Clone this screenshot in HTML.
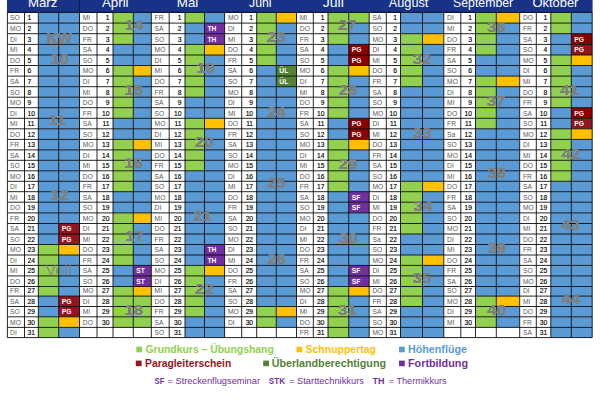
<!DOCTYPE html>
<html lang="de"><head><meta charset="utf-8"><title>Kurskalender 2020</title>
<style>
html,body{margin:0;padding:0;background:#fff;}
body{width:600px;height:400px;overflow:hidden;position:relative;}
svg{display:block;position:absolute;left:0;top:0;}
text{font-family:"Liberation Sans",sans-serif;}
.d{font-size:6.70px;fill:#5a5a5a;}
.n{font-size:6.70px;fill:#000;stroke:#000;stroke-width:0.14px;}
.c{font-size:6.70px;fill:#fff;font-weight:bold;}
.h{font-size:12.7px;fill:#fff;}
.k{font-weight:bold;font-size:13.80px;fill:#7f7f7f;text-anchor:middle;}
.v{font-size:14.8px;fill:#7f7f7f;fill-opacity:0.78;text-anchor:middle;}
.l1{font-size:10.2px;font-weight:bold;}
.l3{font-size:9.4px;fill:#7030a0;}
</style></head><body>
<svg width="600" height="400" viewBox="0 0 600 400">
<rect x="0" y="0" width="600" height="400" fill="#fff"/>
<rect x="7.00" y="-1" width="585.60" height="13.75" fill="#173286"/>
<rect x="38.30" y="12.45" width="20.40" height="10.65" fill="#5b9bd5"/>
<rect x="58.70" y="12.45" width="20.80" height="10.65" fill="#5b9bd5"/>
<rect x="38.30" y="23.10" width="20.40" height="10.60" fill="#5b9bd5"/>
<rect x="58.70" y="23.10" width="20.80" height="10.60" fill="#5b9bd5"/>
<rect x="38.30" y="33.70" width="20.40" height="10.70" fill="#5b9bd5"/>
<rect x="58.70" y="33.70" width="20.80" height="10.70" fill="#5b9bd5"/>
<rect x="38.30" y="44.40" width="20.40" height="10.60" fill="#5b9bd5"/>
<rect x="58.70" y="44.40" width="20.80" height="10.60" fill="#5b9bd5"/>
<rect x="38.30" y="55.00" width="20.40" height="10.50" fill="#5b9bd5"/>
<rect x="58.70" y="55.00" width="20.80" height="10.50" fill="#5b9bd5"/>
<rect x="38.30" y="65.50" width="20.40" height="10.60" fill="#5b9bd5"/>
<rect x="58.70" y="65.50" width="20.80" height="10.60" fill="#5b9bd5"/>
<rect x="38.30" y="76.10" width="20.40" height="10.60" fill="#5b9bd5"/>
<rect x="58.70" y="76.10" width="20.80" height="10.60" fill="#5b9bd5"/>
<rect x="38.30" y="86.70" width="20.40" height="10.50" fill="#5b9bd5"/>
<rect x="58.70" y="86.70" width="20.80" height="10.50" fill="#5b9bd5"/>
<rect x="38.30" y="97.20" width="20.40" height="10.50" fill="#5b9bd5"/>
<rect x="58.70" y="97.20" width="20.80" height="10.50" fill="#5b9bd5"/>
<rect x="38.30" y="107.70" width="20.40" height="10.60" fill="#5b9bd5"/>
<rect x="58.70" y="107.70" width="20.80" height="10.60" fill="#5b9bd5"/>
<rect x="38.30" y="118.30" width="20.40" height="10.50" fill="#5b9bd5"/>
<rect x="58.70" y="118.30" width="20.80" height="10.50" fill="#5b9bd5"/>
<rect x="38.30" y="128.80" width="20.40" height="10.60" fill="#5b9bd5"/>
<rect x="58.70" y="128.80" width="20.80" height="10.60" fill="#5b9bd5"/>
<rect x="38.30" y="139.40" width="20.40" height="10.50" fill="#5b9bd5"/>
<rect x="58.70" y="139.40" width="20.80" height="10.50" fill="#5b9bd5"/>
<rect x="38.30" y="149.90" width="20.40" height="10.40" fill="#5b9bd5"/>
<rect x="58.70" y="149.90" width="20.80" height="10.40" fill="#5b9bd5"/>
<rect x="38.30" y="160.30" width="20.40" height="10.50" fill="#5b9bd5"/>
<rect x="58.70" y="160.30" width="20.80" height="10.50" fill="#5b9bd5"/>
<rect x="38.30" y="170.80" width="20.40" height="10.50" fill="#5b9bd5"/>
<rect x="58.70" y="170.80" width="20.80" height="10.50" fill="#5b9bd5"/>
<rect x="38.30" y="181.30" width="20.40" height="10.40" fill="#5b9bd5"/>
<rect x="58.70" y="181.30" width="20.80" height="10.40" fill="#5b9bd5"/>
<rect x="38.30" y="191.70" width="20.40" height="10.50" fill="#5b9bd5"/>
<rect x="58.70" y="191.70" width="20.80" height="10.50" fill="#5b9bd5"/>
<rect x="38.30" y="202.20" width="20.40" height="10.70" fill="#5b9bd5"/>
<rect x="58.70" y="202.20" width="20.80" height="10.70" fill="#5b9bd5"/>
<rect x="38.30" y="212.90" width="20.40" height="10.60" fill="#5b9bd5"/>
<rect x="58.70" y="212.90" width="20.80" height="10.60" fill="#5b9bd5"/>
<rect x="38.30" y="223.50" width="20.40" height="10.50" fill="#5b9bd5"/>
<rect x="58.70" y="223.50" width="20.80" height="10.50" fill="#911620"/>
<rect x="38.30" y="234.00" width="20.40" height="10.50" fill="#5b9bd5"/>
<rect x="58.70" y="234.00" width="20.80" height="10.50" fill="#911620"/>
<rect x="38.30" y="244.50" width="20.40" height="10.50" fill="#92d050"/>
<rect x="58.70" y="244.50" width="20.80" height="10.50" fill="#ffc000"/>
<rect x="38.30" y="255.00" width="20.40" height="10.40" fill="#92d050"/>
<rect x="58.70" y="255.00" width="20.80" height="10.40" fill="#5b9bd5"/>
<rect x="38.30" y="265.40" width="20.40" height="10.50" fill="#92d050"/>
<rect x="58.70" y="265.40" width="20.80" height="10.50" fill="#5b9bd5"/>
<rect x="38.30" y="275.90" width="20.40" height="10.60" fill="#92d050"/>
<rect x="58.70" y="275.90" width="20.80" height="10.60" fill="#5b9bd5"/>
<rect x="38.30" y="286.50" width="20.40" height="9.60" fill="#92d050"/>
<rect x="58.70" y="286.50" width="20.80" height="9.60" fill="#5b9bd5"/>
<rect x="38.30" y="296.10" width="20.40" height="10.40" fill="#5b9bd5"/>
<rect x="58.70" y="296.10" width="20.80" height="10.40" fill="#911620"/>
<rect x="38.30" y="306.50" width="20.40" height="10.30" fill="#5b9bd5"/>
<rect x="58.70" y="306.50" width="20.80" height="10.30" fill="#911620"/>
<rect x="38.30" y="316.80" width="20.40" height="10.60" fill="#92d050"/>
<rect x="58.70" y="316.80" width="20.80" height="10.60" fill="#ffc000"/>
<rect x="38.30" y="327.40" width="20.40" height="10.20" fill="#92d050"/>
<rect x="58.70" y="327.40" width="20.80" height="10.20" fill="#5b9bd5"/>
<rect x="113.00" y="12.45" width="20.30" height="10.65" fill="#92d050"/>
<rect x="133.30" y="12.45" width="18.00" height="10.65" fill="#5b9bd5"/>
<rect x="113.00" y="23.10" width="20.30" height="10.60" fill="#92d050"/>
<rect x="133.30" y="23.10" width="18.00" height="10.60" fill="#5b9bd5"/>
<rect x="113.00" y="33.70" width="20.30" height="10.70" fill="#92d050"/>
<rect x="133.30" y="33.70" width="18.00" height="10.70" fill="#5b9bd5"/>
<rect x="113.00" y="44.40" width="20.30" height="10.60" fill="#5b9bd5"/>
<rect x="133.30" y="44.40" width="18.00" height="10.60" fill="#5b9bd5"/>
<rect x="113.00" y="55.00" width="20.30" height="10.50" fill="#5b9bd5"/>
<rect x="133.30" y="55.00" width="18.00" height="10.50" fill="#5b9bd5"/>
<rect x="113.00" y="65.50" width="20.30" height="10.60" fill="#92d050"/>
<rect x="133.30" y="65.50" width="18.00" height="10.60" fill="#ffc000"/>
<rect x="113.00" y="76.10" width="20.30" height="10.60" fill="#92d050"/>
<rect x="133.30" y="76.10" width="18.00" height="10.60" fill="#5b9bd5"/>
<rect x="113.00" y="86.70" width="20.30" height="10.50" fill="#92d050"/>
<rect x="133.30" y="86.70" width="18.00" height="10.50" fill="#5b9bd5"/>
<rect x="113.00" y="97.20" width="20.30" height="10.50" fill="#92d050"/>
<rect x="133.30" y="97.20" width="18.00" height="10.50" fill="#5b9bd5"/>
<rect x="113.00" y="107.70" width="20.30" height="10.60" fill="#92d050"/>
<rect x="133.30" y="107.70" width="18.00" height="10.60" fill="#5b9bd5"/>
<rect x="113.00" y="118.30" width="20.30" height="10.50" fill="#5b9bd5"/>
<rect x="133.30" y="118.30" width="18.00" height="10.50" fill="#5b9bd5"/>
<rect x="113.00" y="128.80" width="20.30" height="10.60" fill="#5b9bd5"/>
<rect x="133.30" y="128.80" width="18.00" height="10.60" fill="#5b9bd5"/>
<rect x="113.00" y="139.40" width="20.30" height="10.50" fill="#92d050"/>
<rect x="133.30" y="139.40" width="18.00" height="10.50" fill="#ffc000"/>
<rect x="113.00" y="149.90" width="20.30" height="10.40" fill="#92d050"/>
<rect x="133.30" y="149.90" width="18.00" height="10.40" fill="#5b9bd5"/>
<rect x="113.00" y="160.30" width="20.30" height="10.50" fill="#92d050"/>
<rect x="133.30" y="160.30" width="18.00" height="10.50" fill="#5b9bd5"/>
<rect x="113.00" y="170.80" width="20.30" height="10.50" fill="#92d050"/>
<rect x="133.30" y="170.80" width="18.00" height="10.50" fill="#5b9bd5"/>
<rect x="113.00" y="181.30" width="20.30" height="10.40" fill="#92d050"/>
<rect x="133.30" y="181.30" width="18.00" height="10.40" fill="#5b9bd5"/>
<rect x="113.00" y="191.70" width="20.30" height="10.50" fill="#5b9bd5"/>
<rect x="133.30" y="191.70" width="18.00" height="10.50" fill="#5b9bd5"/>
<rect x="113.00" y="202.20" width="20.30" height="10.70" fill="#5b9bd5"/>
<rect x="133.30" y="202.20" width="18.00" height="10.70" fill="#5b9bd5"/>
<rect x="113.00" y="212.90" width="20.30" height="10.60" fill="#92d050"/>
<rect x="133.30" y="212.90" width="18.00" height="10.60" fill="#ffc000"/>
<rect x="113.00" y="223.50" width="20.30" height="10.50" fill="#92d050"/>
<rect x="133.30" y="223.50" width="18.00" height="10.50" fill="#5b9bd5"/>
<rect x="113.00" y="234.00" width="20.30" height="10.50" fill="#92d050"/>
<rect x="133.30" y="234.00" width="18.00" height="10.50" fill="#5b9bd5"/>
<rect x="113.00" y="244.50" width="20.30" height="10.50" fill="#92d050"/>
<rect x="133.30" y="244.50" width="18.00" height="10.50" fill="#5b9bd5"/>
<rect x="113.00" y="255.00" width="20.30" height="10.40" fill="#92d050"/>
<rect x="133.30" y="255.00" width="18.00" height="10.40" fill="#5b9bd5"/>
<rect x="113.00" y="265.40" width="20.30" height="10.50" fill="#5b9bd5"/>
<rect x="133.30" y="265.40" width="18.00" height="10.50" fill="#7030a0"/>
<rect x="113.00" y="275.90" width="20.30" height="10.60" fill="#5b9bd5"/>
<rect x="133.30" y="275.90" width="18.00" height="10.60" fill="#7030a0"/>
<rect x="113.00" y="286.50" width="20.30" height="9.60" fill="#92d050"/>
<rect x="133.30" y="286.50" width="18.00" height="9.60" fill="#ffc000"/>
<rect x="113.00" y="296.10" width="20.30" height="10.40" fill="#92d050"/>
<rect x="133.30" y="296.10" width="18.00" height="10.40" fill="#92d050"/>
<rect x="113.00" y="306.50" width="20.30" height="10.30" fill="#92d050"/>
<rect x="133.30" y="306.50" width="18.00" height="10.30" fill="#92d050"/>
<rect x="113.00" y="316.80" width="20.30" height="10.60" fill="#92d050"/>
<rect x="133.30" y="316.80" width="18.00" height="10.60" fill="#92d050"/>
<rect x="185.00" y="12.45" width="19.50" height="10.65" fill="#92d050"/>
<rect x="204.50" y="12.45" width="20.10" height="10.65" fill="#5b9bd5"/>
<rect x="185.00" y="23.10" width="19.50" height="10.60" fill="#5b9bd5"/>
<rect x="204.50" y="23.10" width="20.10" height="10.60" fill="#7030a0"/>
<rect x="185.00" y="33.70" width="19.50" height="10.70" fill="#5b9bd5"/>
<rect x="204.50" y="33.70" width="20.10" height="10.70" fill="#7030a0"/>
<rect x="185.00" y="44.40" width="19.50" height="10.60" fill="#92d050"/>
<rect x="204.50" y="44.40" width="20.10" height="10.60" fill="#ffc000"/>
<rect x="185.00" y="55.00" width="19.50" height="10.50" fill="#92d050"/>
<rect x="204.50" y="55.00" width="20.10" height="10.50" fill="#5b9bd5"/>
<rect x="185.00" y="65.50" width="19.50" height="10.60" fill="#92d050"/>
<rect x="204.50" y="65.50" width="20.10" height="10.60" fill="#5b9bd5"/>
<rect x="185.00" y="76.10" width="19.50" height="10.60" fill="#92d050"/>
<rect x="204.50" y="76.10" width="20.10" height="10.60" fill="#5b9bd5"/>
<rect x="185.00" y="86.70" width="19.50" height="10.50" fill="#92d050"/>
<rect x="204.50" y="86.70" width="20.10" height="10.50" fill="#5b9bd5"/>
<rect x="185.00" y="97.20" width="19.50" height="10.50" fill="#5b9bd5"/>
<rect x="204.50" y="97.20" width="20.10" height="10.50" fill="#5b9bd5"/>
<rect x="185.00" y="107.70" width="19.50" height="10.60" fill="#5b9bd5"/>
<rect x="204.50" y="107.70" width="20.10" height="10.60" fill="#5b9bd5"/>
<rect x="185.00" y="118.30" width="19.50" height="10.50" fill="#92d050"/>
<rect x="204.50" y="118.30" width="20.10" height="10.50" fill="#ffc000"/>
<rect x="185.00" y="128.80" width="19.50" height="10.60" fill="#92d050"/>
<rect x="204.50" y="128.80" width="20.10" height="10.60" fill="#5b9bd5"/>
<rect x="185.00" y="139.40" width="19.50" height="10.50" fill="#92d050"/>
<rect x="204.50" y="139.40" width="20.10" height="10.50" fill="#5b9bd5"/>
<rect x="185.00" y="149.90" width="19.50" height="10.40" fill="#92d050"/>
<rect x="204.50" y="149.90" width="20.10" height="10.40" fill="#5b9bd5"/>
<rect x="185.00" y="160.30" width="19.50" height="10.50" fill="#92d050"/>
<rect x="204.50" y="160.30" width="20.10" height="10.50" fill="#5b9bd5"/>
<rect x="185.00" y="170.80" width="19.50" height="10.50" fill="#5b9bd5"/>
<rect x="204.50" y="170.80" width="20.10" height="10.50" fill="#5b9bd5"/>
<rect x="185.00" y="181.30" width="19.50" height="10.40" fill="#5b9bd5"/>
<rect x="204.50" y="181.30" width="20.10" height="10.40" fill="#5b9bd5"/>
<rect x="185.00" y="191.70" width="19.50" height="10.50" fill="#5b9bd5"/>
<rect x="204.50" y="191.70" width="20.10" height="10.50" fill="#5b9bd5"/>
<rect x="185.00" y="202.20" width="19.50" height="10.70" fill="#5b9bd5"/>
<rect x="204.50" y="202.20" width="20.10" height="10.70" fill="#5b9bd5"/>
<rect x="185.00" y="212.90" width="19.50" height="10.60" fill="#5b9bd5"/>
<rect x="204.50" y="212.90" width="20.10" height="10.60" fill="#5b9bd5"/>
<rect x="185.00" y="223.50" width="19.50" height="10.50" fill="#5b9bd5"/>
<rect x="204.50" y="223.50" width="20.10" height="10.50" fill="#5b9bd5"/>
<rect x="185.00" y="234.00" width="19.50" height="10.50" fill="#5b9bd5"/>
<rect x="204.50" y="234.00" width="20.10" height="10.50" fill="#5b9bd5"/>
<rect x="185.00" y="244.50" width="19.50" height="10.50" fill="#5b9bd5"/>
<rect x="204.50" y="244.50" width="20.10" height="10.50" fill="#7030a0"/>
<rect x="185.00" y="255.00" width="19.50" height="10.40" fill="#5b9bd5"/>
<rect x="204.50" y="255.00" width="20.10" height="10.40" fill="#7030a0"/>
<rect x="185.00" y="265.40" width="19.50" height="10.50" fill="#92d050"/>
<rect x="204.50" y="265.40" width="20.10" height="10.50" fill="#ffc000"/>
<rect x="185.00" y="275.90" width="19.50" height="10.60" fill="#92d050"/>
<rect x="204.50" y="275.90" width="20.10" height="10.60" fill="#5b9bd5"/>
<rect x="185.00" y="286.50" width="19.50" height="9.60" fill="#92d050"/>
<rect x="204.50" y="286.50" width="20.10" height="9.60" fill="#5b9bd5"/>
<rect x="185.00" y="296.10" width="19.50" height="10.40" fill="#92d050"/>
<rect x="204.50" y="296.10" width="20.10" height="10.40" fill="#5b9bd5"/>
<rect x="185.00" y="306.50" width="19.50" height="10.30" fill="#92d050"/>
<rect x="204.50" y="306.50" width="20.10" height="10.30" fill="#5b9bd5"/>
<rect x="185.00" y="316.80" width="19.50" height="10.60" fill="#5b9bd5"/>
<rect x="204.50" y="316.80" width="20.10" height="10.60" fill="#5b9bd5"/>
<rect x="185.00" y="327.40" width="19.50" height="10.20" fill="#5b9bd5"/>
<rect x="204.50" y="327.40" width="20.10" height="10.20" fill="#5b9bd5"/>
<rect x="256.70" y="12.45" width="19.60" height="10.65" fill="#92d050"/>
<rect x="276.30" y="12.45" width="20.20" height="10.65" fill="#ffc000"/>
<rect x="256.70" y="23.10" width="19.60" height="10.60" fill="#92d050"/>
<rect x="276.30" y="23.10" width="20.20" height="10.60" fill="#5b9bd5"/>
<rect x="256.70" y="33.70" width="19.60" height="10.70" fill="#92d050"/>
<rect x="276.30" y="33.70" width="20.20" height="10.70" fill="#5b9bd5"/>
<rect x="256.70" y="44.40" width="19.60" height="10.60" fill="#92d050"/>
<rect x="276.30" y="44.40" width="20.20" height="10.60" fill="#5b9bd5"/>
<rect x="256.70" y="55.00" width="19.60" height="10.50" fill="#92d050"/>
<rect x="276.30" y="55.00" width="20.20" height="10.50" fill="#5b9bd5"/>
<rect x="256.70" y="65.50" width="19.60" height="10.60" fill="#5b9bd5"/>
<rect x="276.30" y="65.50" width="20.20" height="10.60" fill="#548235"/>
<rect x="256.70" y="76.10" width="19.60" height="10.60" fill="#5b9bd5"/>
<rect x="276.30" y="76.10" width="20.20" height="10.60" fill="#548235"/>
<rect x="256.70" y="86.70" width="19.60" height="10.50" fill="#5b9bd5"/>
<rect x="276.30" y="86.70" width="20.20" height="10.50" fill="#5b9bd5"/>
<rect x="256.70" y="97.20" width="19.60" height="10.50" fill="#5b9bd5"/>
<rect x="276.30" y="97.20" width="20.20" height="10.50" fill="#5b9bd5"/>
<rect x="256.70" y="107.70" width="19.60" height="10.60" fill="#5b9bd5"/>
<rect x="276.30" y="107.70" width="20.20" height="10.60" fill="#5b9bd5"/>
<rect x="256.70" y="118.30" width="19.60" height="10.50" fill="#5b9bd5"/>
<rect x="276.30" y="118.30" width="20.20" height="10.50" fill="#5b9bd5"/>
<rect x="256.70" y="128.80" width="19.60" height="10.60" fill="#5b9bd5"/>
<rect x="276.30" y="128.80" width="20.20" height="10.60" fill="#5b9bd5"/>
<rect x="256.70" y="139.40" width="19.60" height="10.50" fill="#5b9bd5"/>
<rect x="276.30" y="139.40" width="20.20" height="10.50" fill="#5b9bd5"/>
<rect x="256.70" y="149.90" width="19.60" height="10.40" fill="#5b9bd5"/>
<rect x="276.30" y="149.90" width="20.20" height="10.40" fill="#5b9bd5"/>
<rect x="256.70" y="160.30" width="19.60" height="10.50" fill="#5b9bd5"/>
<rect x="276.30" y="160.30" width="20.20" height="10.50" fill="#5b9bd5"/>
<rect x="256.70" y="170.80" width="19.60" height="10.50" fill="#5b9bd5"/>
<rect x="276.30" y="170.80" width="20.20" height="10.50" fill="#5b9bd5"/>
<rect x="256.70" y="181.30" width="19.60" height="10.40" fill="#5b9bd5"/>
<rect x="276.30" y="181.30" width="20.20" height="10.40" fill="#5b9bd5"/>
<rect x="256.70" y="191.70" width="19.60" height="10.50" fill="#5b9bd5"/>
<rect x="276.30" y="191.70" width="20.20" height="10.50" fill="#5b9bd5"/>
<rect x="256.70" y="202.20" width="19.60" height="10.70" fill="#5b9bd5"/>
<rect x="276.30" y="202.20" width="20.20" height="10.70" fill="#5b9bd5"/>
<rect x="256.70" y="212.90" width="19.60" height="10.60" fill="#5b9bd5"/>
<rect x="276.30" y="212.90" width="20.20" height="10.60" fill="#5b9bd5"/>
<rect x="256.70" y="223.50" width="19.60" height="10.50" fill="#5b9bd5"/>
<rect x="276.30" y="223.50" width="20.20" height="10.50" fill="#5b9bd5"/>
<rect x="256.70" y="234.00" width="19.60" height="10.50" fill="#5b9bd5"/>
<rect x="276.30" y="234.00" width="20.20" height="10.50" fill="#5b9bd5"/>
<rect x="256.70" y="244.50" width="19.60" height="10.50" fill="#5b9bd5"/>
<rect x="276.30" y="244.50" width="20.20" height="10.50" fill="#5b9bd5"/>
<rect x="256.70" y="255.00" width="19.60" height="10.40" fill="#5b9bd5"/>
<rect x="276.30" y="255.00" width="20.20" height="10.40" fill="#5b9bd5"/>
<rect x="256.70" y="265.40" width="19.60" height="10.50" fill="#5b9bd5"/>
<rect x="276.30" y="265.40" width="20.20" height="10.50" fill="#5b9bd5"/>
<rect x="256.70" y="275.90" width="19.60" height="10.60" fill="#5b9bd5"/>
<rect x="276.30" y="275.90" width="20.20" height="10.60" fill="#5b9bd5"/>
<rect x="256.70" y="286.50" width="19.60" height="9.60" fill="#5b9bd5"/>
<rect x="276.30" y="286.50" width="20.20" height="9.60" fill="#5b9bd5"/>
<rect x="256.70" y="296.10" width="19.60" height="10.40" fill="#5b9bd5"/>
<rect x="276.30" y="296.10" width="20.20" height="10.40" fill="#5b9bd5"/>
<rect x="256.70" y="306.50" width="19.60" height="10.30" fill="#92d050"/>
<rect x="276.30" y="306.50" width="20.20" height="10.30" fill="#ffc000"/>
<rect x="256.70" y="316.80" width="19.60" height="10.60" fill="#92d050"/>
<rect x="276.30" y="316.80" width="20.20" height="10.60" fill="#5b9bd5"/>
<rect x="328.00" y="12.45" width="20.70" height="10.65" fill="#92d050"/>
<rect x="348.70" y="12.45" width="20.50" height="10.65" fill="#92d050"/>
<rect x="328.00" y="23.10" width="20.70" height="10.60" fill="#92d050"/>
<rect x="348.70" y="23.10" width="20.50" height="10.60" fill="#5b9bd5"/>
<rect x="328.00" y="33.70" width="20.70" height="10.70" fill="#92d050"/>
<rect x="348.70" y="33.70" width="20.50" height="10.70" fill="#5b9bd5"/>
<rect x="328.00" y="44.40" width="20.70" height="10.60" fill="#5b9bd5"/>
<rect x="348.70" y="44.40" width="20.50" height="10.60" fill="#8c0000"/>
<rect x="328.00" y="55.00" width="20.70" height="10.50" fill="#5b9bd5"/>
<rect x="348.70" y="55.00" width="20.50" height="10.50" fill="#8c0000"/>
<rect x="328.00" y="65.50" width="20.70" height="10.60" fill="#92d050"/>
<rect x="348.70" y="65.50" width="20.50" height="10.60" fill="#ffc000"/>
<rect x="328.00" y="76.10" width="20.70" height="10.60" fill="#92d050"/>
<rect x="348.70" y="76.10" width="20.50" height="10.60" fill="#5b9bd5"/>
<rect x="328.00" y="86.70" width="20.70" height="10.50" fill="#92d050"/>
<rect x="348.70" y="86.70" width="20.50" height="10.50" fill="#5b9bd5"/>
<rect x="328.00" y="97.20" width="20.70" height="10.50" fill="#92d050"/>
<rect x="348.70" y="97.20" width="20.50" height="10.50" fill="#5b9bd5"/>
<rect x="328.00" y="107.70" width="20.70" height="10.60" fill="#92d050"/>
<rect x="348.70" y="107.70" width="20.50" height="10.60" fill="#5b9bd5"/>
<rect x="328.00" y="118.30" width="20.70" height="10.50" fill="#5b9bd5"/>
<rect x="348.70" y="118.30" width="20.50" height="10.50" fill="#8c0000"/>
<rect x="328.00" y="128.80" width="20.70" height="10.60" fill="#5b9bd5"/>
<rect x="348.70" y="128.80" width="20.50" height="10.60" fill="#8c0000"/>
<rect x="328.00" y="139.40" width="20.70" height="10.50" fill="#92d050"/>
<rect x="348.70" y="139.40" width="20.50" height="10.50" fill="#ffc000"/>
<rect x="328.00" y="149.90" width="20.70" height="10.40" fill="#92d050"/>
<rect x="348.70" y="149.90" width="20.50" height="10.40" fill="#5b9bd5"/>
<rect x="328.00" y="160.30" width="20.70" height="10.50" fill="#92d050"/>
<rect x="348.70" y="160.30" width="20.50" height="10.50" fill="#5b9bd5"/>
<rect x="328.00" y="170.80" width="20.70" height="10.50" fill="#92d050"/>
<rect x="348.70" y="170.80" width="20.50" height="10.50" fill="#5b9bd5"/>
<rect x="328.00" y="181.30" width="20.70" height="10.40" fill="#92d050"/>
<rect x="348.70" y="181.30" width="20.50" height="10.40" fill="#5b9bd5"/>
<rect x="328.00" y="191.70" width="20.70" height="10.50" fill="#5b9bd5"/>
<rect x="348.70" y="191.70" width="20.50" height="10.50" fill="#7030a0"/>
<rect x="328.00" y="202.20" width="20.70" height="10.70" fill="#5b9bd5"/>
<rect x="348.70" y="202.20" width="20.50" height="10.70" fill="#7030a0"/>
<rect x="328.00" y="212.90" width="20.70" height="10.60" fill="#5b9bd5"/>
<rect x="348.70" y="212.90" width="20.50" height="10.60" fill="#5b9bd5"/>
<rect x="328.00" y="223.50" width="20.70" height="10.50" fill="#5b9bd5"/>
<rect x="348.70" y="223.50" width="20.50" height="10.50" fill="#5b9bd5"/>
<rect x="328.00" y="234.00" width="20.70" height="10.50" fill="#5b9bd5"/>
<rect x="348.70" y="234.00" width="20.50" height="10.50" fill="#5b9bd5"/>
<rect x="328.00" y="244.50" width="20.70" height="10.50" fill="#5b9bd5"/>
<rect x="348.70" y="244.50" width="20.50" height="10.50" fill="#5b9bd5"/>
<rect x="328.00" y="255.00" width="20.70" height="10.40" fill="#5b9bd5"/>
<rect x="348.70" y="255.00" width="20.50" height="10.40" fill="#5b9bd5"/>
<rect x="328.00" y="265.40" width="20.70" height="10.50" fill="#5b9bd5"/>
<rect x="348.70" y="265.40" width="20.50" height="10.50" fill="#7030a0"/>
<rect x="328.00" y="275.90" width="20.70" height="10.60" fill="#5b9bd5"/>
<rect x="348.70" y="275.90" width="20.50" height="10.60" fill="#7030a0"/>
<rect x="328.00" y="286.50" width="20.70" height="9.60" fill="#92d050"/>
<rect x="348.70" y="286.50" width="20.50" height="9.60" fill="#ffc000"/>
<rect x="328.00" y="296.10" width="20.70" height="10.40" fill="#92d050"/>
<rect x="348.70" y="296.10" width="20.50" height="10.40" fill="#5b9bd5"/>
<rect x="328.00" y="306.50" width="20.70" height="10.30" fill="#92d050"/>
<rect x="348.70" y="306.50" width="20.50" height="10.30" fill="#5b9bd5"/>
<rect x="328.00" y="316.80" width="20.70" height="10.60" fill="#92d050"/>
<rect x="348.70" y="316.80" width="20.50" height="10.60" fill="#5b9bd5"/>
<rect x="328.00" y="327.40" width="20.70" height="10.20" fill="#92d050"/>
<rect x="348.70" y="327.40" width="20.50" height="10.20" fill="#5b9bd5"/>
<rect x="400.50" y="12.45" width="22.00" height="10.65" fill="#5b9bd5"/>
<rect x="422.50" y="12.45" width="21.30" height="10.65" fill="#5b9bd5"/>
<rect x="400.50" y="23.10" width="22.00" height="10.60" fill="#5b9bd5"/>
<rect x="422.50" y="23.10" width="21.30" height="10.60" fill="#5b9bd5"/>
<rect x="400.50" y="33.70" width="22.00" height="10.70" fill="#92d050"/>
<rect x="422.50" y="33.70" width="21.30" height="10.70" fill="#ffc000"/>
<rect x="400.50" y="44.40" width="22.00" height="10.60" fill="#92d050"/>
<rect x="422.50" y="44.40" width="21.30" height="10.60" fill="#5b9bd5"/>
<rect x="400.50" y="55.00" width="22.00" height="10.50" fill="#92d050"/>
<rect x="422.50" y="55.00" width="21.30" height="10.50" fill="#5b9bd5"/>
<rect x="400.50" y="65.50" width="22.00" height="10.60" fill="#92d050"/>
<rect x="422.50" y="65.50" width="21.30" height="10.60" fill="#5b9bd5"/>
<rect x="400.50" y="76.10" width="22.00" height="10.60" fill="#92d050"/>
<rect x="422.50" y="76.10" width="21.30" height="10.60" fill="#5b9bd5"/>
<rect x="400.50" y="86.70" width="22.00" height="10.50" fill="#5b9bd5"/>
<rect x="422.50" y="86.70" width="21.30" height="10.50" fill="#5b9bd5"/>
<rect x="400.50" y="97.20" width="22.00" height="10.50" fill="#5b9bd5"/>
<rect x="422.50" y="97.20" width="21.30" height="10.50" fill="#5b9bd5"/>
<rect x="400.50" y="107.70" width="22.00" height="10.60" fill="#5b9bd5"/>
<rect x="422.50" y="107.70" width="21.30" height="10.60" fill="#5b9bd5"/>
<rect x="400.50" y="118.30" width="22.00" height="10.50" fill="#5b9bd5"/>
<rect x="422.50" y="118.30" width="21.30" height="10.50" fill="#5b9bd5"/>
<rect x="400.50" y="128.80" width="22.00" height="10.60" fill="#5b9bd5"/>
<rect x="422.50" y="128.80" width="21.30" height="10.60" fill="#5b9bd5"/>
<rect x="400.50" y="139.40" width="22.00" height="10.50" fill="#5b9bd5"/>
<rect x="422.50" y="139.40" width="21.30" height="10.50" fill="#5b9bd5"/>
<rect x="400.50" y="149.90" width="22.00" height="10.40" fill="#5b9bd5"/>
<rect x="422.50" y="149.90" width="21.30" height="10.40" fill="#5b9bd5"/>
<rect x="400.50" y="160.30" width="22.00" height="10.50" fill="#5b9bd5"/>
<rect x="422.50" y="160.30" width="21.30" height="10.50" fill="#5b9bd5"/>
<rect x="400.50" y="170.80" width="22.00" height="10.50" fill="#5b9bd5"/>
<rect x="422.50" y="170.80" width="21.30" height="10.50" fill="#5b9bd5"/>
<rect x="400.50" y="181.30" width="22.00" height="10.40" fill="#92d050"/>
<rect x="422.50" y="181.30" width="21.30" height="10.40" fill="#ffc000"/>
<rect x="400.50" y="191.70" width="22.00" height="10.50" fill="#92d050"/>
<rect x="422.50" y="191.70" width="21.30" height="10.50" fill="#5b9bd5"/>
<rect x="400.50" y="202.20" width="22.00" height="10.70" fill="#92d050"/>
<rect x="422.50" y="202.20" width="21.30" height="10.70" fill="#5b9bd5"/>
<rect x="400.50" y="212.90" width="22.00" height="10.60" fill="#92d050"/>
<rect x="422.50" y="212.90" width="21.30" height="10.60" fill="#5b9bd5"/>
<rect x="400.50" y="223.50" width="22.00" height="10.50" fill="#92d050"/>
<rect x="422.50" y="223.50" width="21.30" height="10.50" fill="#5b9bd5"/>
<rect x="400.50" y="234.00" width="22.00" height="10.50" fill="#5b9bd5"/>
<rect x="422.50" y="234.00" width="21.30" height="10.50" fill="#5b9bd5"/>
<rect x="400.50" y="244.50" width="22.00" height="10.50" fill="#5b9bd5"/>
<rect x="422.50" y="244.50" width="21.30" height="10.50" fill="#5b9bd5"/>
<rect x="400.50" y="255.00" width="22.00" height="10.40" fill="#92d050"/>
<rect x="422.50" y="255.00" width="21.30" height="10.40" fill="#ffc000"/>
<rect x="400.50" y="265.40" width="22.00" height="10.50" fill="#92d050"/>
<rect x="422.50" y="265.40" width="21.30" height="10.50" fill="#5b9bd5"/>
<rect x="400.50" y="275.90" width="22.00" height="10.60" fill="#92d050"/>
<rect x="422.50" y="275.90" width="21.30" height="10.60" fill="#5b9bd5"/>
<rect x="400.50" y="286.50" width="22.00" height="9.60" fill="#92d050"/>
<rect x="422.50" y="286.50" width="21.30" height="9.60" fill="#5b9bd5"/>
<rect x="400.50" y="296.10" width="22.00" height="10.40" fill="#92d050"/>
<rect x="422.50" y="296.10" width="21.30" height="10.40" fill="#5b9bd5"/>
<rect x="400.50" y="306.50" width="22.00" height="10.30" fill="#5b9bd5"/>
<rect x="422.50" y="306.50" width="21.30" height="10.30" fill="#5b9bd5"/>
<rect x="400.50" y="316.80" width="22.00" height="10.60" fill="#5b9bd5"/>
<rect x="422.50" y="316.80" width="21.30" height="10.60" fill="#5b9bd5"/>
<rect x="400.50" y="327.40" width="22.00" height="10.20" fill="#5b9bd5"/>
<rect x="422.50" y="327.40" width="21.30" height="10.20" fill="#5b9bd5"/>
<rect x="475.50" y="12.45" width="20.80" height="10.65" fill="#92d050"/>
<rect x="496.30" y="12.45" width="23.40" height="10.65" fill="#ffc000"/>
<rect x="475.50" y="23.10" width="20.80" height="10.60" fill="#92d050"/>
<rect x="496.30" y="23.10" width="23.40" height="10.60" fill="#5b9bd5"/>
<rect x="475.50" y="33.70" width="20.80" height="10.70" fill="#92d050"/>
<rect x="496.30" y="33.70" width="23.40" height="10.70" fill="#5b9bd5"/>
<rect x="475.50" y="44.40" width="20.80" height="10.60" fill="#92d050"/>
<rect x="496.30" y="44.40" width="23.40" height="10.60" fill="#5b9bd5"/>
<rect x="475.50" y="55.00" width="20.80" height="10.50" fill="#5b9bd5"/>
<rect x="496.30" y="55.00" width="23.40" height="10.50" fill="#5b9bd5"/>
<rect x="475.50" y="65.50" width="20.80" height="10.60" fill="#5b9bd5"/>
<rect x="496.30" y="65.50" width="23.40" height="10.60" fill="#5b9bd5"/>
<rect x="475.50" y="76.10" width="20.80" height="10.60" fill="#92d050"/>
<rect x="496.30" y="76.10" width="23.40" height="10.60" fill="#ffc000"/>
<rect x="475.50" y="86.70" width="20.80" height="10.50" fill="#92d050"/>
<rect x="496.30" y="86.70" width="23.40" height="10.50" fill="#5b9bd5"/>
<rect x="475.50" y="97.20" width="20.80" height="10.50" fill="#92d050"/>
<rect x="496.30" y="97.20" width="23.40" height="10.50" fill="#5b9bd5"/>
<rect x="475.50" y="107.70" width="20.80" height="10.60" fill="#92d050"/>
<rect x="496.30" y="107.70" width="23.40" height="10.60" fill="#5b9bd5"/>
<rect x="475.50" y="118.30" width="20.80" height="10.50" fill="#92d050"/>
<rect x="496.30" y="118.30" width="23.40" height="10.50" fill="#5b9bd5"/>
<rect x="475.50" y="128.80" width="20.80" height="10.60" fill="#5b9bd5"/>
<rect x="496.30" y="128.80" width="23.40" height="10.60" fill="#5b9bd5"/>
<rect x="475.50" y="139.40" width="20.80" height="10.50" fill="#5b9bd5"/>
<rect x="496.30" y="139.40" width="23.40" height="10.50" fill="#5b9bd5"/>
<rect x="475.50" y="149.90" width="20.80" height="10.40" fill="#5b9bd5"/>
<rect x="496.30" y="149.90" width="23.40" height="10.40" fill="#5b9bd5"/>
<rect x="475.50" y="160.30" width="20.80" height="10.50" fill="#5b9bd5"/>
<rect x="496.30" y="160.30" width="23.40" height="10.50" fill="#5b9bd5"/>
<rect x="475.50" y="170.80" width="20.80" height="10.50" fill="#5b9bd5"/>
<rect x="496.30" y="170.80" width="23.40" height="10.50" fill="#5b9bd5"/>
<rect x="475.50" y="181.30" width="20.80" height="10.40" fill="#5b9bd5"/>
<rect x="496.30" y="181.30" width="23.40" height="10.40" fill="#5b9bd5"/>
<rect x="475.50" y="191.70" width="20.80" height="10.50" fill="#5b9bd5"/>
<rect x="496.30" y="191.70" width="23.40" height="10.50" fill="#5b9bd5"/>
<rect x="475.50" y="202.20" width="20.80" height="10.70" fill="#5b9bd5"/>
<rect x="496.30" y="202.20" width="23.40" height="10.70" fill="#5b9bd5"/>
<rect x="475.50" y="212.90" width="20.80" height="10.60" fill="#5b9bd5"/>
<rect x="496.30" y="212.90" width="23.40" height="10.60" fill="#5b9bd5"/>
<rect x="475.50" y="223.50" width="20.80" height="10.50" fill="#5b9bd5"/>
<rect x="496.30" y="223.50" width="23.40" height="10.50" fill="#5b9bd5"/>
<rect x="475.50" y="234.00" width="20.80" height="10.50" fill="#5b9bd5"/>
<rect x="496.30" y="234.00" width="23.40" height="10.50" fill="#5b9bd5"/>
<rect x="475.50" y="244.50" width="20.80" height="10.50" fill="#5b9bd5"/>
<rect x="496.30" y="244.50" width="23.40" height="10.50" fill="#5b9bd5"/>
<rect x="475.50" y="255.00" width="20.80" height="10.40" fill="#5b9bd5"/>
<rect x="496.30" y="255.00" width="23.40" height="10.40" fill="#5b9bd5"/>
<rect x="475.50" y="265.40" width="20.80" height="10.50" fill="#5b9bd5"/>
<rect x="496.30" y="265.40" width="23.40" height="10.50" fill="#5b9bd5"/>
<rect x="475.50" y="275.90" width="20.80" height="10.60" fill="#5b9bd5"/>
<rect x="496.30" y="275.90" width="23.40" height="10.60" fill="#5b9bd5"/>
<rect x="475.50" y="286.50" width="20.80" height="9.60" fill="#5b9bd5"/>
<rect x="496.30" y="286.50" width="23.40" height="9.60" fill="#5b9bd5"/>
<rect x="475.50" y="296.10" width="20.80" height="10.40" fill="#92d050"/>
<rect x="496.30" y="296.10" width="23.40" height="10.40" fill="#ffc000"/>
<rect x="475.50" y="306.50" width="20.80" height="10.30" fill="#92d050"/>
<rect x="496.30" y="306.50" width="23.40" height="10.30" fill="#5b9bd5"/>
<rect x="475.50" y="316.80" width="20.80" height="10.60" fill="#92d050"/>
<rect x="496.30" y="316.80" width="23.40" height="10.60" fill="#5b9bd5"/>
<rect x="550.80" y="12.45" width="20.50" height="10.65" fill="#92d050"/>
<rect x="571.30" y="12.45" width="20.90" height="10.65" fill="#5b9bd5"/>
<rect x="550.80" y="23.10" width="20.50" height="10.60" fill="#92d050"/>
<rect x="571.30" y="23.10" width="20.90" height="10.60" fill="#5b9bd5"/>
<rect x="550.80" y="33.70" width="20.50" height="10.70" fill="#5b9bd5"/>
<rect x="571.30" y="33.70" width="20.90" height="10.70" fill="#8c0000"/>
<rect x="550.80" y="44.40" width="20.50" height="10.60" fill="#5b9bd5"/>
<rect x="571.30" y="44.40" width="20.90" height="10.60" fill="#911620"/>
<rect x="550.80" y="55.00" width="20.50" height="10.50" fill="#92d050"/>
<rect x="571.30" y="55.00" width="20.90" height="10.50" fill="#ffc000"/>
<rect x="550.80" y="65.50" width="20.50" height="10.60" fill="#92d050"/>
<rect x="571.30" y="65.50" width="20.90" height="10.60" fill="#5b9bd5"/>
<rect x="550.80" y="76.10" width="20.50" height="10.60" fill="#92d050"/>
<rect x="571.30" y="76.10" width="20.90" height="10.60" fill="#5b9bd5"/>
<rect x="550.80" y="86.70" width="20.50" height="10.50" fill="#92d050"/>
<rect x="571.30" y="86.70" width="20.90" height="10.50" fill="#5b9bd5"/>
<rect x="550.80" y="97.20" width="20.50" height="10.50" fill="#92d050"/>
<rect x="571.30" y="97.20" width="20.90" height="10.50" fill="#5b9bd5"/>
<rect x="550.80" y="107.70" width="20.50" height="10.60" fill="#5b9bd5"/>
<rect x="571.30" y="107.70" width="20.90" height="10.60" fill="#8c0000"/>
<rect x="550.80" y="118.30" width="20.50" height="10.50" fill="#5b9bd5"/>
<rect x="571.30" y="118.30" width="20.90" height="10.50" fill="#911620"/>
<rect x="550.80" y="128.80" width="20.50" height="10.60" fill="#92d050"/>
<rect x="571.30" y="128.80" width="20.90" height="10.60" fill="#ffc000"/>
<rect x="550.80" y="139.40" width="20.50" height="10.50" fill="#92d050"/>
<rect x="571.30" y="139.40" width="20.90" height="10.50" fill="#5b9bd5"/>
<rect x="550.80" y="149.90" width="20.50" height="10.40" fill="#92d050"/>
<rect x="571.30" y="149.90" width="20.90" height="10.40" fill="#5b9bd5"/>
<rect x="550.80" y="160.30" width="20.50" height="10.50" fill="#92d050"/>
<rect x="571.30" y="160.30" width="20.90" height="10.50" fill="#5b9bd5"/>
<rect x="550.80" y="170.80" width="20.50" height="10.50" fill="#92d050"/>
<rect x="571.30" y="170.80" width="20.90" height="10.50" fill="#5b9bd5"/>
<rect x="550.80" y="181.30" width="20.50" height="10.40" fill="#5b9bd5"/>
<rect x="571.30" y="181.30" width="20.90" height="10.40" fill="#5b9bd5"/>
<rect x="550.80" y="191.70" width="20.50" height="10.50" fill="#5b9bd5"/>
<rect x="571.30" y="191.70" width="20.90" height="10.50" fill="#5b9bd5"/>
<rect x="550.80" y="202.20" width="20.50" height="10.70" fill="#5b9bd5"/>
<rect x="571.30" y="202.20" width="20.90" height="10.70" fill="#5b9bd5"/>
<rect x="550.80" y="212.90" width="20.50" height="10.60" fill="#5b9bd5"/>
<rect x="571.30" y="212.90" width="20.90" height="10.60" fill="#5b9bd5"/>
<rect x="550.80" y="223.50" width="20.50" height="10.50" fill="#5b9bd5"/>
<rect x="571.30" y="223.50" width="20.90" height="10.50" fill="#5b9bd5"/>
<rect x="550.80" y="234.00" width="20.50" height="10.50" fill="#5b9bd5"/>
<rect x="571.30" y="234.00" width="20.90" height="10.50" fill="#5b9bd5"/>
<rect x="550.80" y="244.50" width="20.50" height="10.50" fill="#5b9bd5"/>
<rect x="571.30" y="244.50" width="20.90" height="10.50" fill="#5b9bd5"/>
<rect x="550.80" y="255.00" width="20.50" height="10.40" fill="#5b9bd5"/>
<rect x="571.30" y="255.00" width="20.90" height="10.40" fill="#5b9bd5"/>
<rect x="550.80" y="265.40" width="20.50" height="10.50" fill="#5b9bd5"/>
<rect x="571.30" y="265.40" width="20.90" height="10.50" fill="#5b9bd5"/>
<rect x="550.80" y="275.90" width="20.50" height="10.60" fill="#5b9bd5"/>
<rect x="571.30" y="275.90" width="20.90" height="10.60" fill="#5b9bd5"/>
<rect x="550.80" y="286.50" width="20.50" height="9.60" fill="#5b9bd5"/>
<rect x="571.30" y="286.50" width="20.90" height="9.60" fill="#5b9bd5"/>
<rect x="550.80" y="296.10" width="20.50" height="10.40" fill="#5b9bd5"/>
<rect x="571.30" y="296.10" width="20.90" height="10.40" fill="#5b9bd5"/>
<rect x="550.80" y="306.50" width="20.50" height="10.30" fill="#5b9bd5"/>
<rect x="571.30" y="306.50" width="20.90" height="10.30" fill="#5b9bd5"/>
<rect x="550.80" y="316.80" width="20.50" height="10.60" fill="#5b9bd5"/>
<rect x="571.30" y="316.80" width="20.90" height="10.60" fill="#5b9bd5"/>
<rect x="550.80" y="327.40" width="20.50" height="10.20" fill="#5b9bd5"/>
<rect x="571.30" y="327.40" width="20.90" height="10.20" fill="#5b9bd5"/>
<g stroke="#000" stroke-width="0.85" fill="none">
<line x1="7.40" y1="12.45" x2="592.20" y2="12.45"/>
<line x1="7.40" y1="23.10" x2="592.20" y2="23.10"/>
<line x1="7.40" y1="33.70" x2="592.20" y2="33.70"/>
<line x1="7.40" y1="44.40" x2="592.20" y2="44.40"/>
<line x1="7.40" y1="55.00" x2="592.20" y2="55.00"/>
<line x1="7.40" y1="65.50" x2="592.20" y2="65.50"/>
<line x1="7.40" y1="76.10" x2="592.20" y2="76.10"/>
<line x1="7.40" y1="86.70" x2="592.20" y2="86.70"/>
<line x1="7.40" y1="97.20" x2="592.20" y2="97.20"/>
<line x1="7.40" y1="107.70" x2="592.20" y2="107.70"/>
<line x1="7.40" y1="118.30" x2="592.20" y2="118.30"/>
<line x1="7.40" y1="128.80" x2="592.20" y2="128.80"/>
<line x1="7.40" y1="139.40" x2="592.20" y2="139.40"/>
<line x1="7.40" y1="149.90" x2="592.20" y2="149.90"/>
<line x1="7.40" y1="160.30" x2="592.20" y2="160.30"/>
<line x1="7.40" y1="170.80" x2="592.20" y2="170.80"/>
<line x1="7.40" y1="181.30" x2="592.20" y2="181.30"/>
<line x1="7.40" y1="191.70" x2="592.20" y2="191.70"/>
<line x1="7.40" y1="202.20" x2="592.20" y2="202.20"/>
<line x1="7.40" y1="212.90" x2="592.20" y2="212.90"/>
<line x1="7.40" y1="223.50" x2="592.20" y2="223.50"/>
<line x1="7.40" y1="234.00" x2="592.20" y2="234.00"/>
<line x1="7.40" y1="244.50" x2="592.20" y2="244.50"/>
<line x1="7.40" y1="255.00" x2="592.20" y2="255.00"/>
<line x1="7.40" y1="265.40" x2="592.20" y2="265.40"/>
<line x1="7.40" y1="275.90" x2="592.20" y2="275.90"/>
<line x1="7.40" y1="286.50" x2="592.20" y2="286.50"/>
<line x1="7.40" y1="296.10" x2="592.20" y2="296.10"/>
<line x1="7.40" y1="306.50" x2="592.20" y2="306.50"/>
<line x1="7.40" y1="316.80" x2="592.20" y2="316.80"/>
<line x1="7.40" y1="327.40" x2="592.20" y2="327.40"/>
<line x1="7.40" y1="337.60" x2="592.20" y2="337.60"/>
<line x1="7.40" y1="12.45" x2="7.40" y2="337.60"/>
<line x1="24.50" y1="12.45" x2="24.50" y2="337.60"/>
<line x1="38.30" y1="12.45" x2="38.30" y2="337.60"/>
<line x1="58.70" y1="12.45" x2="58.70" y2="337.60"/>
<line x1="79.50" y1="12.45" x2="79.50" y2="337.60"/>
<line x1="97.00" y1="12.45" x2="97.00" y2="337.60"/>
<line x1="113.00" y1="12.45" x2="113.00" y2="337.60"/>
<line x1="133.30" y1="12.45" x2="133.30" y2="337.60"/>
<line x1="151.30" y1="12.45" x2="151.30" y2="337.60"/>
<line x1="169.20" y1="12.45" x2="169.20" y2="337.60"/>
<line x1="185.00" y1="12.45" x2="185.00" y2="337.60"/>
<line x1="204.50" y1="12.45" x2="204.50" y2="337.60"/>
<line x1="224.60" y1="12.45" x2="224.60" y2="337.60"/>
<line x1="241.70" y1="12.45" x2="241.70" y2="337.60"/>
<line x1="256.70" y1="12.45" x2="256.70" y2="337.60"/>
<line x1="276.30" y1="12.45" x2="276.30" y2="337.60"/>
<line x1="296.50" y1="12.45" x2="296.50" y2="337.60"/>
<line x1="313.30" y1="12.45" x2="313.30" y2="337.60"/>
<line x1="328.00" y1="12.45" x2="328.00" y2="337.60"/>
<line x1="348.70" y1="12.45" x2="348.70" y2="337.60"/>
<line x1="369.20" y1="12.45" x2="369.20" y2="337.60"/>
<line x1="386.30" y1="12.45" x2="386.30" y2="337.60"/>
<line x1="400.50" y1="12.45" x2="400.50" y2="337.60"/>
<line x1="422.50" y1="12.45" x2="422.50" y2="337.60"/>
<line x1="443.80" y1="12.45" x2="443.80" y2="337.60"/>
<line x1="460.80" y1="12.45" x2="460.80" y2="337.60"/>
<line x1="475.50" y1="12.45" x2="475.50" y2="337.60"/>
<line x1="496.30" y1="12.45" x2="496.30" y2="337.60"/>
<line x1="519.70" y1="12.45" x2="519.70" y2="337.60"/>
<line x1="536.30" y1="12.45" x2="536.30" y2="337.60"/>
<line x1="550.80" y1="12.45" x2="550.80" y2="337.60"/>
<line x1="571.30" y1="12.45" x2="571.30" y2="337.60"/>
<line x1="592.20" y1="12.45" x2="592.20" y2="337.60"/>
</g>
<line x1="79.45" y1="-1" x2="79.45" y2="12.45" stroke="#081848" stroke-width="0.9"/>
<text class="h" x="27.90" y="6.8" textLength="29.50" lengthAdjust="spacingAndGlyphs">März</text>
<text class="h" x="101.90" y="6.8" textLength="26.70" lengthAdjust="spacingAndGlyphs">April</text>
<text class="h" x="176.80" y="6.8" textLength="21.50" lengthAdjust="spacingAndGlyphs">Mai</text>
<text class="h" x="249.10" y="6.8" textLength="22.50" lengthAdjust="spacingAndGlyphs">Juni</text>
<text class="h" x="322.70" y="6.8" textLength="21.10" lengthAdjust="spacingAndGlyphs">Juli</text>
<text class="h" x="388.80" y="6.8" textLength="39.60" lengthAdjust="spacingAndGlyphs">August</text>
<text class="h" x="453.10" y="6.8" textLength="60.10" lengthAdjust="spacingAndGlyphs">September</text>
<text class="h" x="532.40" y="6.8" textLength="46.00" lengthAdjust="spacingAndGlyphs">Oktober</text>
<text class="d" x="10.10" y="20.40">SO</text>
<text class="n" x="27.50" y="20.40">1</text>
<text class="d" x="10.10" y="31.00">MO</text>
<text class="n" x="27.50" y="31.00">2</text>
<text class="d" x="10.10" y="41.70">DI</text>
<text class="n" x="27.50" y="41.70">3</text>
<text class="d" x="10.10" y="52.30">MI</text>
<text class="n" x="27.50" y="52.30">4</text>
<text class="d" x="10.10" y="62.80">DO</text>
<text class="n" x="27.50" y="62.80">5</text>
<text class="d" x="10.10" y="73.40">FR</text>
<text class="n" x="27.50" y="73.40">6</text>
<text class="d" x="10.10" y="84.00">SA</text>
<text class="n" x="27.50" y="84.00">7</text>
<text class="d" x="10.10" y="94.50">SO</text>
<text class="n" x="27.50" y="94.50">8</text>
<text class="d" x="10.10" y="105.00">MO</text>
<text class="n" x="27.50" y="105.00">9</text>
<text class="d" x="10.10" y="115.60">DI</text>
<text class="n" x="27.50" y="115.60">10</text>
<text class="d" x="10.10" y="126.10">MI</text>
<text class="n" x="27.50" y="126.10">11</text>
<text class="d" x="10.10" y="136.70">DO</text>
<text class="n" x="27.50" y="136.70">12</text>
<text class="d" x="10.10" y="147.20">FR</text>
<text class="n" x="27.50" y="147.20">13</text>
<text class="d" x="10.10" y="157.60">SA</text>
<text class="n" x="27.50" y="157.60">14</text>
<text class="d" x="10.10" y="168.10">SO</text>
<text class="n" x="27.50" y="168.10">15</text>
<text class="d" x="10.10" y="178.60">MO</text>
<text class="n" x="27.50" y="178.60">16</text>
<text class="d" x="10.10" y="189.00">DI</text>
<text class="n" x="27.50" y="189.00">17</text>
<text class="d" x="10.10" y="199.50">MI</text>
<text class="n" x="27.50" y="199.50">18</text>
<text class="d" x="10.10" y="210.20">DO</text>
<text class="n" x="27.50" y="210.20">19</text>
<text class="d" x="10.10" y="220.80">FR</text>
<text class="n" x="27.50" y="220.80">20</text>
<text class="d" x="10.10" y="231.30">SA</text>
<text class="n" x="27.50" y="231.30">21</text>
<text class="c" x="61.70" y="231.30">PG</text>
<text class="d" x="10.10" y="241.80">SO</text>
<text class="n" x="27.50" y="241.80">22</text>
<text class="c" x="61.70" y="241.80">PG</text>
<text class="d" x="10.10" y="252.30">MO</text>
<text class="n" x="27.50" y="252.30">23</text>
<text class="d" x="10.10" y="262.70">DI</text>
<text class="n" x="27.50" y="262.70">24</text>
<text class="d" x="10.10" y="273.20">MI</text>
<text class="n" x="27.50" y="273.20">25</text>
<text class="d" x="10.10" y="283.80">DO</text>
<text class="n" x="27.50" y="283.80">26</text>
<text class="d" x="10.10" y="293.40">FR</text>
<text class="n" x="27.50" y="293.40">27</text>
<text class="d" x="10.10" y="303.80">SA</text>
<text class="n" x="27.50" y="303.80">28</text>
<text class="c" x="61.70" y="303.80">PG</text>
<text class="d" x="10.10" y="314.10">SO</text>
<text class="n" x="27.50" y="314.10">29</text>
<text class="c" x="61.70" y="314.10">PG</text>
<text class="d" x="10.10" y="324.70">MO</text>
<text class="n" x="27.50" y="324.70">30</text>
<text class="d" x="10.10" y="334.90">DI</text>
<text class="n" x="27.50" y="334.90">31</text>
<text class="d" x="82.80" y="20.40">MI</text>
<text class="n" text-anchor="end" x="109.40" y="20.40">1</text>
<text class="d" x="82.80" y="31.00">DO</text>
<text class="n" text-anchor="end" x="109.40" y="31.00">2</text>
<text class="d" x="82.80" y="41.70">FR</text>
<text class="n" text-anchor="end" x="109.40" y="41.70">3</text>
<text class="d" x="82.80" y="52.30">SA</text>
<text class="n" text-anchor="end" x="109.40" y="52.30">4</text>
<text class="d" x="82.80" y="62.80">SO</text>
<text class="n" text-anchor="end" x="109.40" y="62.80">5</text>
<text class="d" x="82.80" y="73.40">MO</text>
<text class="n" text-anchor="end" x="109.40" y="73.40">6</text>
<text class="d" x="82.80" y="84.00">DI</text>
<text class="n" text-anchor="end" x="109.40" y="84.00">7</text>
<text class="d" x="82.80" y="94.50">MI</text>
<text class="n" text-anchor="end" x="109.40" y="94.50">8</text>
<text class="d" x="82.80" y="105.00">DO</text>
<text class="n" text-anchor="end" x="109.40" y="105.00">9</text>
<text class="d" x="82.80" y="115.60">FR</text>
<text class="n" text-anchor="end" x="109.40" y="115.60">10</text>
<text class="d" x="82.80" y="126.10">SA</text>
<text class="n" text-anchor="end" x="109.40" y="126.10">11</text>
<text class="d" x="82.80" y="136.70">SO</text>
<text class="n" text-anchor="end" x="109.40" y="136.70">12</text>
<text class="d" x="82.80" y="147.20">MO</text>
<text class="n" text-anchor="end" x="109.40" y="147.20">13</text>
<text class="d" x="82.80" y="157.60">DI</text>
<text class="n" text-anchor="end" x="109.40" y="157.60">14</text>
<text class="d" x="82.80" y="168.10">MI</text>
<text class="n" text-anchor="end" x="109.40" y="168.10">15</text>
<text class="d" x="82.80" y="178.60">DO</text>
<text class="n" text-anchor="end" x="109.40" y="178.60">16</text>
<text class="d" x="82.80" y="189.00">FR</text>
<text class="n" text-anchor="end" x="109.40" y="189.00">17</text>
<text class="d" x="82.80" y="199.50">SA</text>
<text class="n" text-anchor="end" x="109.40" y="199.50">18</text>
<text class="d" x="82.80" y="210.20">SO</text>
<text class="n" text-anchor="end" x="109.40" y="210.20">19</text>
<text class="d" x="82.80" y="220.80">MO</text>
<text class="n" text-anchor="end" x="109.40" y="220.80">20</text>
<text class="d" x="82.80" y="231.30">DI</text>
<text class="n" text-anchor="end" x="109.40" y="231.30">21</text>
<text class="d" x="82.80" y="241.80">MI</text>
<text class="n" text-anchor="end" x="109.40" y="241.80">22</text>
<text class="d" x="82.80" y="252.30">DO</text>
<text class="n" text-anchor="end" x="109.40" y="252.30">23</text>
<text class="d" x="82.80" y="262.70">FR</text>
<text class="n" text-anchor="end" x="109.40" y="262.70">24</text>
<text class="d" x="82.80" y="273.20">SA</text>
<text class="n" text-anchor="end" x="109.40" y="273.20">25</text>
<text class="c" x="136.30" y="273.20">ST</text>
<text class="d" x="82.80" y="283.80">SO</text>
<text class="n" text-anchor="end" x="109.40" y="283.80">26</text>
<text class="c" x="136.30" y="283.80">ST</text>
<text class="d" x="82.80" y="293.40">MO</text>
<text class="n" text-anchor="end" x="109.40" y="293.40">27</text>
<text class="d" x="82.80" y="303.80">DI</text>
<text class="n" text-anchor="end" x="109.40" y="303.80">28</text>
<text class="d" x="82.80" y="314.10">MI</text>
<text class="n" text-anchor="end" x="109.40" y="314.10">29</text>
<text class="d" x="82.80" y="324.70">DO</text>
<text class="n" text-anchor="end" x="109.40" y="324.70">30</text>
<text class="d" x="154.60" y="20.40">FR</text>
<text class="n" text-anchor="end" x="181.40" y="20.40">1</text>
<text class="d" x="154.60" y="31.00">SA</text>
<text class="n" text-anchor="end" x="181.40" y="31.00">2</text>
<text class="c" x="207.50" y="31.00">TH</text>
<text class="d" x="154.60" y="41.70">SO</text>
<text class="n" text-anchor="end" x="181.40" y="41.70">3</text>
<text class="c" x="207.50" y="41.70">TH</text>
<text class="d" x="154.60" y="52.30">MO</text>
<text class="n" text-anchor="end" x="181.40" y="52.30">4</text>
<text class="d" x="154.60" y="62.80">DI</text>
<text class="n" text-anchor="end" x="181.40" y="62.80">5</text>
<text class="d" x="154.60" y="73.40">MI</text>
<text class="n" text-anchor="end" x="181.40" y="73.40">6</text>
<text class="d" x="154.60" y="84.00">DO</text>
<text class="n" text-anchor="end" x="181.40" y="84.00">7</text>
<text class="d" x="154.60" y="94.50">FR</text>
<text class="n" text-anchor="end" x="181.40" y="94.50">8</text>
<text class="d" x="154.60" y="105.00">SA</text>
<text class="n" text-anchor="end" x="181.40" y="105.00">9</text>
<text class="d" x="154.60" y="115.60">SO</text>
<text class="n" text-anchor="end" x="181.40" y="115.60">10</text>
<text class="d" x="154.60" y="126.10">MO</text>
<text class="n" text-anchor="end" x="181.40" y="126.10">11</text>
<text class="d" x="154.60" y="136.70">DI</text>
<text class="n" text-anchor="end" x="181.40" y="136.70">12</text>
<text class="d" x="154.60" y="147.20">MI</text>
<text class="n" text-anchor="end" x="181.40" y="147.20">13</text>
<text class="d" x="154.60" y="157.60">DO</text>
<text class="n" text-anchor="end" x="181.40" y="157.60">14</text>
<text class="d" x="154.60" y="168.10">FR</text>
<text class="n" text-anchor="end" x="181.40" y="168.10">15</text>
<text class="d" x="154.60" y="178.60">SA</text>
<text class="n" text-anchor="end" x="181.40" y="178.60">16</text>
<text class="d" x="154.60" y="189.00">SO</text>
<text class="n" text-anchor="end" x="181.40" y="189.00">17</text>
<text class="d" x="154.60" y="199.50">MO</text>
<text class="n" text-anchor="end" x="181.40" y="199.50">18</text>
<text class="d" x="154.60" y="210.20">DI</text>
<text class="n" text-anchor="end" x="181.40" y="210.20">19</text>
<text class="d" x="154.60" y="220.80">MI</text>
<text class="n" text-anchor="end" x="181.40" y="220.80">20</text>
<text class="d" x="154.60" y="231.30">DO</text>
<text class="n" text-anchor="end" x="181.40" y="231.30">21</text>
<text class="d" x="154.60" y="241.80">FR</text>
<text class="n" text-anchor="end" x="181.40" y="241.80">22</text>
<text class="d" x="154.60" y="252.30">SA</text>
<text class="n" text-anchor="end" x="181.40" y="252.30">23</text>
<text class="c" x="207.50" y="252.30">TH</text>
<text class="d" x="154.60" y="262.70">SO</text>
<text class="n" text-anchor="end" x="181.40" y="262.70">24</text>
<text class="c" x="207.50" y="262.70">TH</text>
<text class="d" x="154.60" y="273.20">MO</text>
<text class="n" text-anchor="end" x="181.40" y="273.20">25</text>
<text class="d" x="154.60" y="283.80">DI</text>
<text class="n" text-anchor="end" x="181.40" y="283.80">26</text>
<text class="d" x="154.60" y="293.40">MI</text>
<text class="n" text-anchor="end" x="181.40" y="293.40">27</text>
<text class="d" x="154.60" y="303.80">DO</text>
<text class="n" text-anchor="end" x="181.40" y="303.80">28</text>
<text class="d" x="154.60" y="314.10">FR</text>
<text class="n" text-anchor="end" x="181.40" y="314.10">29</text>
<text class="d" x="154.60" y="324.70">SA</text>
<text class="n" text-anchor="end" x="181.40" y="324.70">30</text>
<text class="d" x="154.60" y="334.90">SO</text>
<text class="n" text-anchor="end" x="181.40" y="334.90">31</text>
<text class="d" x="227.90" y="20.40">MO</text>
<text class="n" text-anchor="end" x="253.10" y="20.40">1</text>
<text class="d" x="227.90" y="31.00">DI</text>
<text class="n" text-anchor="end" x="253.10" y="31.00">2</text>
<text class="d" x="227.90" y="41.70">MI</text>
<text class="n" text-anchor="end" x="253.10" y="41.70">3</text>
<text class="d" x="227.90" y="52.30">DO</text>
<text class="n" text-anchor="end" x="253.10" y="52.30">4</text>
<text class="d" x="227.90" y="62.80">FR</text>
<text class="n" text-anchor="end" x="253.10" y="62.80">5</text>
<text class="d" x="227.90" y="73.40">SA</text>
<text class="n" text-anchor="end" x="253.10" y="73.40">6</text>
<text class="c" x="279.30" y="73.40">ÜL</text>
<text class="d" x="227.90" y="84.00">SO</text>
<text class="n" text-anchor="end" x="253.10" y="84.00">7</text>
<text class="c" x="279.30" y="84.00">ÜL</text>
<text class="d" x="227.90" y="94.50">MO</text>
<text class="n" text-anchor="end" x="253.10" y="94.50">8</text>
<text class="d" x="227.90" y="105.00">DI</text>
<text class="n" text-anchor="end" x="253.10" y="105.00">9</text>
<text class="d" x="227.90" y="115.60">MI</text>
<text class="n" text-anchor="end" x="253.10" y="115.60">10</text>
<text class="d" x="227.90" y="126.10">DO</text>
<text class="n" text-anchor="end" x="253.10" y="126.10">11</text>
<text class="d" x="227.90" y="136.70">FR</text>
<text class="n" text-anchor="end" x="253.10" y="136.70">12</text>
<text class="d" x="227.90" y="147.20">SA</text>
<text class="n" text-anchor="end" x="253.10" y="147.20">13</text>
<text class="d" x="227.90" y="157.60">SO</text>
<text class="n" text-anchor="end" x="253.10" y="157.60">14</text>
<text class="d" x="227.90" y="168.10">MO</text>
<text class="n" text-anchor="end" x="253.10" y="168.10">15</text>
<text class="d" x="227.90" y="178.60">DI</text>
<text class="n" text-anchor="end" x="253.10" y="178.60">16</text>
<text class="d" x="227.90" y="189.00">MI</text>
<text class="n" text-anchor="end" x="253.10" y="189.00">17</text>
<text class="d" x="227.90" y="199.50">DO</text>
<text class="n" text-anchor="end" x="253.10" y="199.50">18</text>
<text class="d" x="227.90" y="210.20">FR</text>
<text class="n" text-anchor="end" x="253.10" y="210.20">19</text>
<text class="d" x="227.90" y="220.80">SA</text>
<text class="n" text-anchor="end" x="253.10" y="220.80">20</text>
<text class="d" x="227.90" y="231.30">SO</text>
<text class="n" text-anchor="end" x="253.10" y="231.30">21</text>
<text class="d" x="227.90" y="241.80">MO</text>
<text class="n" text-anchor="end" x="253.10" y="241.80">22</text>
<text class="d" x="227.90" y="252.30">DI</text>
<text class="n" text-anchor="end" x="253.10" y="252.30">23</text>
<text class="d" x="227.90" y="262.70">MI</text>
<text class="n" text-anchor="end" x="253.10" y="262.70">24</text>
<text class="d" x="227.90" y="273.20">DO</text>
<text class="n" text-anchor="end" x="253.10" y="273.20">25</text>
<text class="d" x="227.90" y="283.80">FR</text>
<text class="n" text-anchor="end" x="253.10" y="283.80">26</text>
<text class="d" x="227.90" y="293.40">SA</text>
<text class="n" text-anchor="end" x="253.10" y="293.40">27</text>
<text class="d" x="227.90" y="303.80">SO</text>
<text class="n" text-anchor="end" x="253.10" y="303.80">28</text>
<text class="d" x="227.90" y="314.10">MO</text>
<text class="n" text-anchor="end" x="253.10" y="314.10">29</text>
<text class="d" x="227.90" y="324.70">DI</text>
<text class="n" text-anchor="end" x="253.10" y="324.70">30</text>
<text class="d" x="299.80" y="20.40">MI</text>
<text class="n" text-anchor="end" x="324.40" y="20.40">1</text>
<text class="d" x="299.80" y="31.00">DO</text>
<text class="n" text-anchor="end" x="324.40" y="31.00">2</text>
<text class="d" x="299.80" y="41.70">FR</text>
<text class="n" text-anchor="end" x="324.40" y="41.70">3</text>
<text class="d" x="299.80" y="52.30">SA</text>
<text class="n" text-anchor="end" x="324.40" y="52.30">4</text>
<text class="c" x="351.70" y="52.30">PG</text>
<text class="d" x="299.80" y="62.80">SO</text>
<text class="n" text-anchor="end" x="324.40" y="62.80">5</text>
<text class="c" x="351.70" y="62.80">PG</text>
<text class="d" x="299.80" y="73.40">MO</text>
<text class="n" text-anchor="end" x="324.40" y="73.40">6</text>
<text class="d" x="299.80" y="84.00">DI</text>
<text class="n" text-anchor="end" x="324.40" y="84.00">7</text>
<text class="d" x="299.80" y="94.50">MI</text>
<text class="n" text-anchor="end" x="324.40" y="94.50">8</text>
<text class="d" x="299.80" y="105.00">DO</text>
<text class="n" text-anchor="end" x="324.40" y="105.00">9</text>
<text class="d" x="299.80" y="115.60">FR</text>
<text class="n" text-anchor="end" x="324.40" y="115.60">10</text>
<text class="d" x="299.80" y="126.10">SA</text>
<text class="n" text-anchor="end" x="324.40" y="126.10">11</text>
<text class="c" x="351.70" y="126.10">PG</text>
<text class="d" x="299.80" y="136.70">SO</text>
<text class="n" text-anchor="end" x="324.40" y="136.70">12</text>
<text class="c" x="351.70" y="136.70">PG</text>
<text class="d" x="299.80" y="147.20">MO</text>
<text class="n" text-anchor="end" x="324.40" y="147.20">13</text>
<text class="d" x="299.80" y="157.60">DI</text>
<text class="n" text-anchor="end" x="324.40" y="157.60">14</text>
<text class="d" x="299.80" y="168.10">MI</text>
<text class="n" text-anchor="end" x="324.40" y="168.10">15</text>
<text class="d" x="299.80" y="178.60">DO</text>
<text class="n" text-anchor="end" x="324.40" y="178.60">16</text>
<text class="d" x="299.80" y="189.00">FR</text>
<text class="n" text-anchor="end" x="324.40" y="189.00">17</text>
<text class="d" x="299.80" y="199.50">SA</text>
<text class="n" text-anchor="end" x="324.40" y="199.50">18</text>
<text class="c" x="351.70" y="199.50">SF</text>
<text class="d" x="299.80" y="210.20">SO</text>
<text class="n" text-anchor="end" x="324.40" y="210.20">19</text>
<text class="c" x="351.70" y="210.20">SF</text>
<text class="d" x="299.80" y="220.80">MO</text>
<text class="n" text-anchor="end" x="324.40" y="220.80">20</text>
<text class="d" x="299.80" y="231.30">DI</text>
<text class="n" text-anchor="end" x="324.40" y="231.30">21</text>
<text class="d" x="299.80" y="241.80">MI</text>
<text class="n" text-anchor="end" x="324.40" y="241.80">22</text>
<text class="d" x="299.80" y="252.30">DO</text>
<text class="n" text-anchor="end" x="324.40" y="252.30">23</text>
<text class="d" x="299.80" y="262.70">FR</text>
<text class="n" text-anchor="end" x="324.40" y="262.70">24</text>
<text class="d" x="299.80" y="273.20">SA</text>
<text class="n" text-anchor="end" x="324.40" y="273.20">25</text>
<text class="c" x="351.70" y="273.20">SF</text>
<text class="d" x="299.80" y="283.80">SO</text>
<text class="n" text-anchor="end" x="324.40" y="283.80">26</text>
<text class="c" x="351.70" y="283.80">SF</text>
<text class="d" x="299.80" y="293.40">MO</text>
<text class="n" text-anchor="end" x="324.40" y="293.40">27</text>
<text class="d" x="299.80" y="303.80">DI</text>
<text class="n" text-anchor="end" x="324.40" y="303.80">28</text>
<text class="d" x="299.80" y="314.10">MI</text>
<text class="n" text-anchor="end" x="324.40" y="314.10">29</text>
<text class="d" x="299.80" y="324.70">DO</text>
<text class="n" text-anchor="end" x="324.40" y="324.70">30</text>
<text class="d" x="299.80" y="334.90">FR</text>
<text class="n" text-anchor="end" x="324.40" y="334.90">31</text>
<text class="d" x="372.50" y="20.40">SA</text>
<text class="n" text-anchor="end" x="396.90" y="20.40">1</text>
<text class="d" x="372.50" y="31.00">SO</text>
<text class="n" text-anchor="end" x="396.90" y="31.00">2</text>
<text class="d" x="372.50" y="41.70">MO</text>
<text class="n" text-anchor="end" x="396.90" y="41.70">3</text>
<text class="d" x="372.50" y="52.30">DI</text>
<text class="n" text-anchor="end" x="396.90" y="52.30">4</text>
<text class="d" x="372.50" y="62.80">MI</text>
<text class="n" text-anchor="end" x="396.90" y="62.80">5</text>
<text class="d" x="372.50" y="73.40">DO</text>
<text class="n" text-anchor="end" x="396.90" y="73.40">6</text>
<text class="d" x="372.50" y="84.00">FR</text>
<text class="n" text-anchor="end" x="396.90" y="84.00">7</text>
<text class="d" x="372.50" y="94.50">SA</text>
<text class="n" text-anchor="end" x="396.90" y="94.50">8</text>
<text class="d" x="372.50" y="105.00">SO</text>
<text class="n" text-anchor="end" x="396.90" y="105.00">9</text>
<text class="d" x="372.50" y="115.60">MO</text>
<text class="n" text-anchor="end" x="396.90" y="115.60">10</text>
<text class="d" x="372.50" y="126.10">DI</text>
<text class="n" text-anchor="end" x="396.90" y="126.10">11</text>
<text class="d" x="372.50" y="136.70">MI</text>
<text class="n" text-anchor="end" x="396.90" y="136.70">12</text>
<text class="d" x="372.50" y="147.20">DO</text>
<text class="n" text-anchor="end" x="396.90" y="147.20">13</text>
<text class="d" x="372.50" y="157.60">FR</text>
<text class="n" text-anchor="end" x="396.90" y="157.60">14</text>
<text class="d" x="372.50" y="168.10">SA</text>
<text class="n" text-anchor="end" x="396.90" y="168.10">15</text>
<text class="d" x="372.50" y="178.60">SO</text>
<text class="n" text-anchor="end" x="396.90" y="178.60">16</text>
<text class="d" x="372.50" y="189.00">MO</text>
<text class="n" text-anchor="end" x="396.90" y="189.00">17</text>
<text class="d" x="372.50" y="199.50">DI</text>
<text class="n" text-anchor="end" x="396.90" y="199.50">18</text>
<text class="d" x="372.50" y="210.20">MI</text>
<text class="n" text-anchor="end" x="396.90" y="210.20">19</text>
<text class="d" x="372.50" y="220.80">DO</text>
<text class="n" text-anchor="end" x="396.90" y="220.80">20</text>
<text class="d" x="372.50" y="231.30">FR</text>
<text class="n" text-anchor="end" x="396.90" y="231.30">21</text>
<text class="d" x="372.50" y="241.80">Sa</text>
<text class="n" text-anchor="end" x="396.90" y="241.80">22</text>
<text class="d" x="372.50" y="252.30">SO</text>
<text class="n" text-anchor="end" x="396.90" y="252.30">23</text>
<text class="d" x="372.50" y="262.70">MO</text>
<text class="n" text-anchor="end" x="396.90" y="262.70">24</text>
<text class="d" x="372.50" y="273.20">DI</text>
<text class="n" text-anchor="end" x="396.90" y="273.20">25</text>
<text class="d" x="372.50" y="283.80">MI</text>
<text class="n" text-anchor="end" x="396.90" y="283.80">26</text>
<text class="d" x="372.50" y="293.40">DO</text>
<text class="n" text-anchor="end" x="396.90" y="293.40">27</text>
<text class="d" x="372.50" y="303.80">FR</text>
<text class="n" text-anchor="end" x="396.90" y="303.80">28</text>
<text class="d" x="372.50" y="314.10">SA</text>
<text class="n" text-anchor="end" x="396.90" y="314.10">29</text>
<text class="d" x="372.50" y="324.70">SO</text>
<text class="n" text-anchor="end" x="396.90" y="324.70">30</text>
<text class="d" x="372.50" y="334.90">MO</text>
<text class="n" text-anchor="end" x="396.90" y="334.90">31</text>
<text class="d" x="447.10" y="20.40">DI</text>
<text class="n" text-anchor="end" x="471.90" y="20.40">1</text>
<text class="d" x="447.10" y="31.00">MI</text>
<text class="n" text-anchor="end" x="471.90" y="31.00">2</text>
<text class="d" x="447.10" y="41.70">DO</text>
<text class="n" text-anchor="end" x="471.90" y="41.70">3</text>
<text class="d" x="447.10" y="52.30">FR</text>
<text class="n" text-anchor="end" x="471.90" y="52.30">4</text>
<text class="d" x="447.10" y="62.80">SA</text>
<text class="n" text-anchor="end" x="471.90" y="62.80">5</text>
<text class="d" x="447.10" y="73.40">SO</text>
<text class="n" text-anchor="end" x="471.90" y="73.40">6</text>
<text class="d" x="447.10" y="84.00">MO</text>
<text class="n" text-anchor="end" x="471.90" y="84.00">7</text>
<text class="d" x="447.10" y="94.50">DI</text>
<text class="n" text-anchor="end" x="471.90" y="94.50">8</text>
<text class="d" x="447.10" y="105.00">MI</text>
<text class="n" text-anchor="end" x="471.90" y="105.00">9</text>
<text class="d" x="447.10" y="115.60">DO</text>
<text class="n" text-anchor="end" x="471.90" y="115.60">10</text>
<text class="d" x="447.10" y="126.10">FR</text>
<text class="n" text-anchor="end" x="471.90" y="126.10">11</text>
<text class="d" x="447.10" y="136.70">Sa</text>
<text class="n" text-anchor="end" x="471.90" y="136.70">12</text>
<text class="d" x="447.10" y="147.20">SO</text>
<text class="n" text-anchor="end" x="471.90" y="147.20">13</text>
<text class="d" x="447.10" y="157.60">MO</text>
<text class="n" text-anchor="end" x="471.90" y="157.60">14</text>
<text class="d" x="447.10" y="168.10">DI</text>
<text class="n" text-anchor="end" x="471.90" y="168.10">15</text>
<text class="d" x="447.10" y="178.60">MI</text>
<text class="n" text-anchor="end" x="471.90" y="178.60">16</text>
<text class="d" x="447.10" y="189.00">DO</text>
<text class="n" text-anchor="end" x="471.90" y="189.00">17</text>
<text class="d" x="447.10" y="199.50">FR</text>
<text class="n" text-anchor="end" x="471.90" y="199.50">18</text>
<text class="d" x="447.10" y="210.20">SA</text>
<text class="n" text-anchor="end" x="471.90" y="210.20">19</text>
<text class="d" x="447.10" y="220.80">SO</text>
<text class="n" text-anchor="end" x="471.90" y="220.80">20</text>
<text class="d" x="447.10" y="231.30">MO</text>
<text class="n" text-anchor="end" x="471.90" y="231.30">21</text>
<text class="d" x="447.10" y="241.80">DI</text>
<text class="n" text-anchor="end" x="471.90" y="241.80">22</text>
<text class="d" x="447.10" y="252.30">MI</text>
<text class="n" text-anchor="end" x="471.90" y="252.30">23</text>
<text class="d" x="447.10" y="262.70">DO</text>
<text class="n" text-anchor="end" x="471.90" y="262.70">24</text>
<text class="d" x="447.10" y="273.20">FR</text>
<text class="n" text-anchor="end" x="471.90" y="273.20">25</text>
<text class="d" x="447.10" y="283.80">SA</text>
<text class="n" text-anchor="end" x="471.90" y="283.80">26</text>
<text class="d" x="447.10" y="293.40">SO</text>
<text class="n" text-anchor="end" x="471.90" y="293.40">27</text>
<text class="d" x="447.10" y="303.80">MO</text>
<text class="n" text-anchor="end" x="471.90" y="303.80">28</text>
<text class="d" x="447.10" y="314.10">DI</text>
<text class="n" text-anchor="end" x="471.90" y="314.10">29</text>
<text class="d" x="447.10" y="324.70">MI</text>
<text class="n" text-anchor="end" x="471.90" y="324.70">30</text>
<text class="d" x="523.00" y="20.40">DO</text>
<text class="n" text-anchor="end" x="547.20" y="20.40">1</text>
<text class="d" x="523.00" y="31.00">FR</text>
<text class="n" text-anchor="end" x="547.20" y="31.00">2</text>
<text class="d" x="523.00" y="41.70">SA</text>
<text class="n" text-anchor="end" x="547.20" y="41.70">3</text>
<text class="c" x="574.30" y="41.70">PG</text>
<text class="d" x="523.00" y="52.30">SO</text>
<text class="n" text-anchor="end" x="547.20" y="52.30">4</text>
<text class="c" x="574.30" y="52.30">PG</text>
<text class="d" x="523.00" y="62.80">MO</text>
<text class="n" text-anchor="end" x="547.20" y="62.80">5</text>
<text class="d" x="523.00" y="73.40">DI</text>
<text class="n" text-anchor="end" x="547.20" y="73.40">6</text>
<text class="d" x="523.00" y="84.00">MI</text>
<text class="n" text-anchor="end" x="547.20" y="84.00">7</text>
<text class="d" x="523.00" y="94.50">DO</text>
<text class="n" text-anchor="end" x="547.20" y="94.50">8</text>
<text class="d" x="523.00" y="105.00">FR</text>
<text class="n" text-anchor="end" x="547.20" y="105.00">9</text>
<text class="d" x="523.00" y="115.60">SA</text>
<text class="n" text-anchor="end" x="547.20" y="115.60">10</text>
<text class="c" x="574.30" y="115.60">PG</text>
<text class="d" x="523.00" y="126.10">SO</text>
<text class="n" text-anchor="end" x="547.20" y="126.10">11</text>
<text class="c" x="574.30" y="126.10">PG</text>
<text class="d" x="523.00" y="136.70">MO</text>
<text class="n" text-anchor="end" x="547.20" y="136.70">12</text>
<text class="d" x="523.00" y="147.20">DI</text>
<text class="n" text-anchor="end" x="547.20" y="147.20">13</text>
<text class="d" x="523.00" y="157.60">MI</text>
<text class="n" text-anchor="end" x="547.20" y="157.60">14</text>
<text class="d" x="523.00" y="168.10">DO</text>
<text class="n" text-anchor="end" x="547.20" y="168.10">15</text>
<text class="d" x="523.00" y="178.60">FR</text>
<text class="n" text-anchor="end" x="547.20" y="178.60">16</text>
<text class="d" x="523.00" y="189.00">SA</text>
<text class="n" text-anchor="end" x="547.20" y="189.00">17</text>
<text class="d" x="523.00" y="199.50">SO</text>
<text class="n" text-anchor="end" x="547.20" y="199.50">18</text>
<text class="d" x="523.00" y="210.20">MO</text>
<text class="n" text-anchor="end" x="547.20" y="210.20">19</text>
<text class="d" x="523.00" y="220.80">DI</text>
<text class="n" text-anchor="end" x="547.20" y="220.80">20</text>
<text class="d" x="523.00" y="231.30">MI</text>
<text class="n" text-anchor="end" x="547.20" y="231.30">21</text>
<text class="d" x="523.00" y="241.80">DO</text>
<text class="n" text-anchor="end" x="547.20" y="241.80">22</text>
<text class="d" x="523.00" y="252.30">FR</text>
<text class="n" text-anchor="end" x="547.20" y="252.30">23</text>
<text class="d" x="523.00" y="262.70">SA</text>
<text class="n" text-anchor="end" x="547.20" y="262.70">24</text>
<text class="d" x="523.00" y="273.20">SO</text>
<text class="n" text-anchor="end" x="547.20" y="273.20">25</text>
<text class="d" x="523.00" y="283.80">MO</text>
<text class="n" text-anchor="end" x="547.20" y="283.80">26</text>
<text class="d" x="523.00" y="293.40">DI</text>
<text class="n" text-anchor="end" x="547.20" y="293.40">27</text>
<text class="d" x="523.00" y="303.80">MI</text>
<text class="n" text-anchor="end" x="547.20" y="303.80">28</text>
<text class="d" x="523.00" y="314.10">DO</text>
<text class="n" text-anchor="end" x="547.20" y="314.10">29</text>
<text class="d" x="523.00" y="324.70">FR</text>
<text class="n" text-anchor="end" x="547.20" y="324.70">30</text>
<text class="d" x="523.00" y="334.90">SA</text>
<text class="n" text-anchor="end" x="547.20" y="334.90">31</text>
<defs><filter id="hv" filterUnits="userSpaceOnUse" x="0" y="0" width="600" height="400" color-interpolation-filters="sRGB"><feGaussianBlur stdDeviation="0.6"/><feComponentTransfer><feFuncA type="linear" slope="3.5" intercept="-0.35"/></feComponentTransfer></filter></defs>
<g filter="url(#hv)">
<text class="k" transform="translate(59.20,43.14) scale(1.100,1)">KW</text>
<text class="k" transform="translate(59.50,63.64) scale(1.220,1)">10</text>
<text class="k" transform="translate(57.10,125.14) scale(1.220,1)">11</text>
<text class="k" transform="translate(59.60,199.54) scale(1.220,1)">12</text>
<text class="k" transform="translate(134.00,30.44) scale(1.220,1)">14</text>
<text class="k" transform="translate(133.60,95.14) scale(1.220,1)">15</text>
<text class="k" transform="translate(133.30,168.24) scale(1.220,1)">16</text>
<text class="k" transform="translate(134.40,240.74) scale(1.220,1)">17</text>
<text class="k" transform="translate(133.75,314.74) scale(1.220,1)">18</text>
<text class="k" transform="translate(205.60,73.24) scale(1.220,1)">19</text>
<text class="k" transform="translate(204.00,146.94) scale(1.220,1)">20</text>
<text class="k" transform="translate(202.30,220.74) scale(1.220,1)">21</text>
<text class="k" transform="translate(204.40,293.84) scale(1.220,1)">22</text>
<text class="k" transform="translate(276.00,41.74) scale(1.220,1)">23</text>
<text class="k" transform="translate(276.30,116.74) scale(1.220,1)">24</text>
<text class="k" transform="translate(276.30,187.74) scale(1.220,1)">25</text>
<text class="k" transform="translate(276.25,264.14) scale(1.220,1)">26</text>
<text class="k" transform="translate(347.30,30.44) scale(1.220,1)">27</text>
<text class="k" transform="translate(347.80,95.14) scale(1.220,1)">28</text>
<text class="k" transform="translate(347.80,168.84) scale(1.220,1)">29</text>
<text class="k" transform="translate(348.30,242.94) scale(1.220,1)">30</text>
<text class="k" transform="translate(347.30,315.44) scale(1.220,1)">31</text>
<text class="k" transform="translate(422.10,63.64) scale(1.220,1)">32</text>
<text class="k" transform="translate(422.10,137.64) scale(1.220,1)">33</text>
<text class="k" transform="translate(422.80,210.84) scale(1.220,1)">34</text>
<text class="k" transform="translate(421.90,282.94) scale(1.220,1)">35</text>
<text class="k" transform="translate(496.30,31.54) scale(1.220,1)">36</text>
<text class="k" transform="translate(496.00,105.54) scale(1.220,1)">37</text>
<text class="k" transform="translate(496.50,178.14) scale(1.220,1)">38</text>
<text class="k" transform="translate(496.60,252.94) scale(1.220,1)">39</text>
<text class="k" transform="translate(496.70,314.74) scale(1.220,1)">40</text>
<text class="k" transform="translate(569.50,95.14) scale(1.220,1)">41</text>
<text class="k" transform="translate(570.80,159.24) scale(1.220,1)">42</text>
<text class="k" transform="translate(570.20,230.14) scale(1.220,1)">43</text>
<text class="k" transform="translate(570.50,303.84) scale(1.220,1)">44</text>
</g>
<text class="v" transform="translate(58.5,274.8) scale(1.09,1)">Voll</text>
<rect x="136.30" y="346.70" width="5.8" height="5.6" fill="#92d050"/>
<text class="l1" x="145.50" y="352.60" fill="#92d050" textLength="128.30" lengthAdjust="spacingAndGlyphs">Grundkurs – Übungshang</text>
<rect x="296.50" y="346.70" width="5.8" height="5.6" fill="#ffc000"/>
<text class="l1" x="305.50" y="352.60" fill="#ffc000" textLength="70.50" lengthAdjust="spacingAndGlyphs">Schnuppertag</text>
<rect x="399.00" y="346.70" width="5.8" height="5.6" fill="#5b9bd5"/>
<text class="l1" x="408.00" y="352.60" fill="#5b9bd5" textLength="59.00" lengthAdjust="spacingAndGlyphs">Höhenflüge</text>
<rect x="135.80" y="360.60" width="5.8" height="5.6" fill="#911620"/>
<text class="l1" x="145.00" y="366.70" fill="#911620" textLength="86.20" lengthAdjust="spacingAndGlyphs">Paragleiterschein</text>
<rect x="263.20" y="360.60" width="5.8" height="5.6" fill="#548235"/>
<text class="l1" x="271.70" y="366.70" fill="#548235" textLength="114.30" lengthAdjust="spacingAndGlyphs">Überlandberechtigung</text>
<rect x="399.00" y="360.60" width="5.8" height="5.6" fill="#7030a0"/>
<text class="l1" x="408.00" y="366.70" fill="#7030a0" textLength="60.00" lengthAdjust="spacingAndGlyphs">Fortbildung</text>
<text class="l3" x="154.50" y="383.6" textLength="10.00" lengthAdjust="spacingAndGlyphs" font-weight="bold">SF</text>
<text class="l3" x="167.50" y="383.6" textLength="92.50" lengthAdjust="spacingAndGlyphs">= Streckenflugseminar</text>
<text class="l3" x="268.75" y="383.6" textLength="16.25" lengthAdjust="spacingAndGlyphs" font-weight="bold">STK</text>
<text class="l3" x="289.00" y="383.6" textLength="75.00" lengthAdjust="spacingAndGlyphs">= Starttechnikkurs</text>
<text class="l3" x="372.50" y="383.6" textLength="12.00" lengthAdjust="spacingAndGlyphs" font-weight="bold">TH</text>
<text class="l3" x="388.70" y="383.6" textLength="58.00" lengthAdjust="spacingAndGlyphs">= Thermikkurs</text>
</svg>
</body></html>
